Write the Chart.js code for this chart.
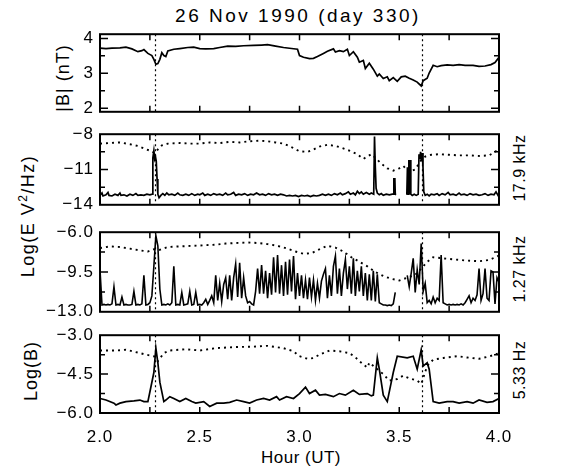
<!DOCTYPE html>
<html><head><meta charset="utf-8">
<script src="https://cdn.jsdelivr.net/npm/chart.js@4"></script>
<style>
body{margin:0;background:#fff;width:569px;height:471px;overflow:hidden;position:relative;font-family:"Liberation Sans",Arial,sans-serif;color:#000;}
canvas{position:absolute;left:0;}
.lbl{position:absolute;white-space:nowrap;font-size:18px;line-height:1;letter-spacing:1px;}
.c{transform:translate(-50%,-50%);}
.rot{transform:translate(-50%,-50%) rotate(-90deg);}
</style></head><body>
<div class="lbl c" style="left:298px;top:15px;font-size:19px;letter-spacing:2.5px">26 Nov 1990 (day 330)</div>
<div class="lbl rot" style="left:63px;top:78px">|B| (nT)</div>
<div class="lbl rot" style="left:28px;top:216px;letter-spacing:1.5px">Log(E V<sup style="font-size:12px;line-height:0">2</sup>/Hz)</div>
<div class="lbl rot" style="left:31px;top:371px">Log(B)</div>
<div class="lbl rot" style="left:520px;top:168px;font-size:16px;letter-spacing:0.5px">17.9 kHz</div>
<div class="lbl rot" style="left:520px;top:269px;font-size:16px;letter-spacing:0.5px">1.27 kHz</div>
<div class="lbl rot" style="left:520px;top:370px;font-size:16px;letter-spacing:0.5px">5.33 Hz</div>
<div class="lbl c" style="left:301px;top:457px;font-size:17px;letter-spacing:0.5px">Hour (UT)</div>
<script>
// ---------------- DATA ----------------
const eventHours = [2.277, 3.612];
const xTickHours = [2.25, 2.5, 2.75, 3.0, 3.25, 3.5, 3.75];
const xLabelHours = [2.0, 2.5, 3.0, 3.5, 4.0];

// Panel 1: |B| (nT)
const bTimes = [2.00,2.03,2.06,2.10,2.13,2.16,2.19,2.21,2.22,2.24,2.26,2.27,2.28,2.29,2.30,2.31,2.32,2.33,2.34,2.37,2.40,2.44,2.47,2.50,2.53,2.57,2.60,2.64,2.68,2.72,2.77,2.81,2.84,2.88,2.92,2.96,2.99,3.00,3.02,3.05,3.07,3.09,3.12,3.14,3.17,3.18,3.20,3.22,3.24,3.25,3.27,3.29,3.30,3.32,3.33,3.35,3.37,3.39,3.40,3.42,3.44,3.45,3.47,3.49,3.51,3.53,3.55,3.57,3.59,3.61,3.62,3.64,3.65,3.67,3.69,3.71,3.74,3.77,3.80,3.83,3.87,3.90,3.93,3.96,3.98,4.00];
const bValues = [3.72,3.71,3.72,3.73,3.75,3.70,3.62,3.65,3.68,3.57,3.51,3.40,3.26,3.28,3.40,3.59,3.51,3.48,3.64,3.69,3.71,3.74,3.75,3.71,3.70,3.71,3.74,3.78,3.77,3.79,3.80,3.81,3.82,3.78,3.74,3.71,3.69,3.51,3.46,3.42,3.43,3.48,3.57,3.63,3.70,3.61,3.65,3.62,3.69,3.51,3.62,3.46,3.32,3.37,3.14,3.29,3.12,2.92,2.98,2.85,2.90,2.79,2.88,2.77,2.90,2.92,2.86,2.81,2.75,2.64,2.79,2.86,3.01,3.23,3.19,3.22,3.24,3.23,3.25,3.23,3.23,3.20,3.21,3.25,3.31,3.46];

// Panel 2: 17.9 kHz
const e18Times = [2.000,2.010,2.015,2.030,2.040,2.045,2.060,2.075,2.090,2.100,2.105,2.120,2.135,2.150,2.165,2.180,2.190,2.205,2.220,2.235,2.250,2.262,2.265,2.270,2.274,2.278,2.282,2.286,2.290,2.296,2.305,2.315,2.325,2.335,2.345,2.360,2.375,2.390,2.400,2.415,2.430,2.445,2.460,2.475,2.490,2.500,2.515,2.525,2.540,2.555,2.570,2.585,2.600,2.615,2.630,2.640,2.655,2.670,2.680,2.695,2.710,2.725,2.740,2.755,2.770,2.785,2.800,2.815,2.830,2.845,2.860,2.875,2.890,2.905,2.920,2.935,2.950,2.965,2.980,2.995,3.010,3.025,3.040,3.055,3.070,3.085,3.100,3.115,3.130,3.145,3.160,3.175,3.190,3.205,3.215,3.230,3.245,3.255,3.270,3.280,3.290,3.300,3.310,3.320,3.335,3.350,3.360,3.372,3.376,3.380,3.384,3.390,3.400,3.410,3.420,3.435,3.450,3.465,3.471,3.473,3.478,3.480,3.484,3.510,3.538,3.541,3.544,3.548,3.551,3.555,3.558,3.565,3.575,3.585,3.595,3.599,3.603,3.607,3.611,3.615,3.619,3.623,3.630,3.640,3.650,3.660,3.675,3.690,3.700,3.715,3.730,3.745,3.755,3.770,3.785,3.800,3.810,3.825,3.840,3.855,3.870,3.885,3.900,3.915,3.930,3.945,3.960,3.975,3.985,3.995,4.000];
const e18Values = [-13.2,-13.0,-13.25,-13.15,-12.95,-13.2,-13.25,-13.1,-13.2,-13.0,-13.2,-13.15,-13.25,-13.1,-13.2,-13.05,-13.2,-13.15,-13.2,-13.1,-13.15,-13.1,-10.0,-9.4,-10.1,-9.9,-10.3,-11.8,-13.1,-13.4,-13.2,-13.05,-13.2,-13.0,-13.15,-13.1,-13.2,-13.0,-13.15,-13.2,-13.1,-13.2,-13.05,-13.2,-13.1,-13.15,-13.0,-13.2,-13.1,-13.2,-13.05,-13.15,-13.1,-13.2,-13.0,-13.15,-13.1,-12.95,-13.2,-13.1,-13.15,-13.05,-13.2,-13.1,-13.15,-13.0,-13.15,-13.1,-13.2,-13.05,-13.15,-13.1,-13.2,-13.1,-13.15,-13.25,-13.2,-13.25,-13.2,-13.3,-13.2,-13.25,-13.2,-13.3,-13.2,-13.25,-13.2,-13.1,-13.2,-13.1,-13.2,-13.05,-13.15,-13.0,-13.15,-13.05,-12.9,-13.1,-13.0,-13.15,-12.85,-13.05,-12.9,-13.1,-12.95,-13.1,-13.0,-13.1,-8.2,-10.8,-12.6,-13.0,-13.15,-13.05,-13.2,-13.1,-13.15,-13.1,-13.1,-11.8,-11.8,-13.1,-13.15,null,-13.15,-10.8,-13.1,-10.2,-13.1,-10.2,-13.1,-13.2,-13.1,-13.2,-13.1,-9.7,-10.1,-9.5,-10.3,-9.6,-10.8,-12.9,-13.2,-13.1,-13.25,-13.1,-13.15,-13.05,-13.2,-13.05,-13.15,-12.95,-13.15,-13.1,-13.2,-13.0,-13.15,-13.1,-13.2,-13.05,-13.15,-13.1,-13.2,-13.15,-13.05,-13.2,-13.1,-13.15,-12.9,-13.2,-13.0];
const e18RefTimes = [2.00,2.05,2.10,2.15,2.19,2.22,2.25,2.275,2.29,2.31,2.34,2.40,2.45,2.50,2.55,2.60,2.65,2.70,2.75,2.80,2.84,2.88,2.92,2.96,3.00,3.04,3.07,3.10,3.14,3.18,3.21,3.25,3.29,3.32,3.34,3.36,3.38,3.41,3.44,3.47,3.50,3.52,3.55,3.58,3.61,3.63,3.66,3.70,3.75,3.80,3.85,3.90,3.95,4.00];
const e18RefValues = [-8.8,-8.75,-8.7,-8.85,-9.0,-9.2,-9.4,-9.6,-9.3,-8.95,-8.8,-8.75,-8.8,-8.8,-8.7,-8.75,-8.65,-8.7,-8.6,-8.55,-8.6,-8.7,-8.8,-9.1,-9.45,-9.5,-9.3,-9.05,-8.9,-9.0,-9.15,-9.4,-9.7,-10.1,-9.9,-9.7,-10.0,-10.5,-10.9,-11.1,-10.9,-10.7,-11.2,-11.0,-10.2,-9.9,-9.75,-9.7,-9.75,-9.8,-9.8,-9.85,-9.8,-9.3];

// Panel 3: 1.27 kHz, one sample every 0.01 h from 2.00 to 4.00
const e127Start = 2.0, e127Step = 0.01;
const e127Values = [
-9.3,-12.4,-12.35,-12.4,-12.35,-12.4,-12.3,-10.8,-12.4,-12.35,
-12.4,-11.7,-12.4,-12.35,-12.4,-12.4,-12.35,-11.2,-12.4,-12.35,
-12.4,-12.3,-9.8,-12.4,-12.35,-12.2,-11.6,-9.0,-6.3,-7.2,
-11.0,-12.4,-12.35,-12.4,-12.3,-12.4,-12.2,-9.0,-12.4,-12.35,
-12.4,-11.3,-12.4,-12.35,-12.3,-11.2,-12.4,-12.35,-11.3,-12.4,
-12.35,-12.4,-12.2,-11.9,-12.35,-12.0,-11.6,-12.2,-9.8,-12.0,
-10.5,-12.1,-10.6,-10.0,-11.9,-9.8,-12.0,-10.0,-8.8,-11.7,
-8.7,-11.8,-10.0,-11.6,-12.2,-12.1,-12.3,-12.4,-11.2,-9.2,
-11.4,-8.9,-11.4,-9.4,-11.8,-9.6,-11.5,-8.2,-11.3,-8.0,
-11.4,-8.9,-11.6,-8.6,-11.5,-8.4,-11.2,-8.1,-11.9,-9.6,
-11.6,-9.8,-11.8,-10.2,-11.9,-10.0,-11.7,-10.2,-12.0,-10.5,
-11.8,-10.3,-9.7,-9.2,-11.8,-9.8,-11.6,-9.0,-8.1,-11.4,
-9.2,-11.6,-9.6,-8.4,-11.0,-9.0,-11.4,-8.3,-11.6,-9.4,
-11.2,-9.0,-11.6,-9.6,-12.0,-9.7,-12.0,-9.4,-12.1,-9.7,
-12.2,-12.3,-12.4,-12.4,-12.45,-12.4,-12.45,-12.3,-11.3,null,
null,null,null,null,-9.8,-10.8,-9.6,-8.3,-11.3,-9.3,
-10.6,-7.0,-11.2,-10.5,-12.2,-12.0,-12.3,-11.7,-12.2,-11.8,
-12.0,-8.0,-12.2,-12.3,-12.4,-12.35,-12.4,-12.35,-12.4,-12.35,
-12.4,-12.3,-12.4,-12.2,-11.9,-11.6,-12.2,-11.8,-12.0,-11.5,
-9.2,-12.0,-11.4,-9.2,-11.8,-12.0,-9.4,-9.5,-12.3,-10.0,
-10.4];
const e127RefTimes = [2.00,2.05,2.10,2.15,2.20,2.24,2.27,2.30,2.34,2.40,2.46,2.52,2.58,2.63,2.68,2.74,2.79,2.84,2.89,2.94,2.98,3.02,3.06,3.10,3.14,3.18,3.22,3.26,3.30,3.34,3.38,3.42,3.46,3.50,3.54,3.58,3.61,3.64,3.67,3.72,3.78,3.84,3.90,3.95,4.00];
const e127RefValues = [-7.4,-7.25,-7.3,-7.45,-7.6,-7.7,-7.5,-7.55,-7.3,-7.25,-7.2,-7.15,-7.1,-7.0,-6.95,-6.9,-6.95,-7.05,-7.2,-7.45,-7.7,-7.9,-7.85,-7.5,-7.2,-7.35,-7.7,-8.2,-8.6,-9.0,-9.5,-9.85,-10.1,-10.25,-10.0,-9.75,-9.2,-8.6,-8.2,-8.3,-8.4,-8.5,-8.55,-8.45,-8.05];

// Panel 4: 5.33 Hz
const b5Times = [2.00,2.03,2.07,2.08,2.10,2.13,2.17,2.20,2.22,2.24,2.25,2.27,2.28,2.29,2.30,2.32,2.33,2.35,2.37,2.40,2.43,2.46,2.48,2.52,2.55,2.585,2.62,2.65,2.685,2.72,2.75,2.785,2.82,2.85,2.885,2.90,2.935,2.97,3.00,3.03,3.05,3.08,3.10,3.13,3.17,3.20,3.23,3.27,3.30,3.34,3.36,3.37,3.39,3.40,3.42,3.44,3.47,3.49,3.54,3.57,3.59,3.61,3.62,3.64,3.65,3.67,3.70,3.74,3.77,3.80,3.84,3.87,3.90,3.94,3.97,4.00];
const b5Values = [-5.44,-5.5,-5.62,-5.69,-5.62,-5.56,-5.53,-5.5,-5.56,-5.56,-5.19,-4.44,-3.5,-4.06,-4.81,-5.56,-5.5,-5.37,-5.44,-5.56,-5.44,-5.56,-5.62,-5.56,-5.75,-5.62,-5.62,-5.59,-5.5,-5.56,-5.62,-5.5,-5.44,-5.5,-5.37,-5.5,-5.37,-5.44,-5.25,-5.0,-5.25,-5.12,-5.31,-5.28,-5.37,-5.25,-5.31,-5.12,-5.28,-5.25,-5.34,-5.31,-3.87,-4.31,-5.31,-5.56,-4.44,-3.81,-3.87,-3.81,-4.31,-3.56,-4.19,-4.06,-4.31,-5.56,-5.62,-5.56,-5.56,-5.62,-5.56,-5.62,-5.5,-5.59,-5.56,-5.44];
const b5RefTimes = [2.00,2.08,2.13,2.20,2.23,2.27,2.29,2.32,2.35,2.43,2.50,2.58,2.67,2.77,2.84,2.92,2.97,3.00,3.04,3.07,3.10,3.15,3.20,3.25,3.28,3.30,3.34,3.35,3.39,3.42,3.45,3.49,3.52,3.55,3.59,3.61,3.64,3.67,3.72,3.79,3.84,3.90,3.955,4.00];
const b5RefValues = [-3.59,-3.59,-3.56,-3.69,-3.75,-3.81,-4.0,-3.69,-3.59,-3.54,-3.59,-3.5,-3.46,-3.44,-3.41,-3.5,-3.62,-3.81,-3.91,-3.88,-3.75,-3.59,-3.62,-3.69,-3.85,-4.0,-4.25,-4.06,-4.31,-4.5,-4.75,-4.69,-4.56,-4.66,-4.75,-4.88,-4.19,-3.94,-3.88,-3.81,-3.86,-3.91,-3.81,-3.69];

// y axis ranges, labelled ticks and minor ticks per panel
const p1YRange = [1.9, 4.12], p1YLabels = [2, 3, 4], p1YMinor = [2.5, 3.5];
const p2YRange = [-14, -8], p2YLabels = [-14, -11, -8], p2YMinor = [-12.5, -9.5];
const p3YRange = [-13, -6], p3YLabels = [-13, -9.5, -6], p3YMinor = [-11.25, -7.75];
const p4YRange = [-6, -3], p4YLabels = [-6, -4.5, -3], p4YMinor = [-5.25, -3.75];

// ---------------- DRAWING ----------------
const FONT = '"Liberation Sans", Arial, sans-serif';
const pts = (xs, ys) => xs.map((x, i) => ({x: x, y: ys[i]}));
const gridPts = (start, step, ys) => ys.map((y, i) => ({x: +(start + i * step).toFixed(4), y: y}));
const fmtMinus = s => s.replace('-', '\u2212');

const framePlugin = {
  id: 'frame',
  beforeDraw(chart) { try { chart.ctx.letterSpacing = '1px'; } catch (e) {} },
  beforeDatasetsDraw(chart) {
    const {ctx, chartArea: a, scales: {x}} = chart;
    ctx.save();
    ctx.strokeStyle = '#000'; ctx.lineWidth = 1.2; ctx.setLineDash([2, 3]);
    eventHours.forEach(h => {
      const px = Math.round(x.getPixelForValue(h)) + 0.5;
      ctx.beginPath(); ctx.moveTo(px, a.top); ctx.lineTo(px, a.bottom); ctx.stroke();
    });
    ctx.restore();
  },
  afterDatasetsDraw(chart, args, opts) {
    const {ctx, chartArea: a, scales: {x, y}} = chart;
    ctx.save();
    ctx.strokeStyle = '#000'; ctx.lineWidth = 2; ctx.setLineDash([]);
    ctx.strokeRect(a.left, a.top, a.right - a.left, a.bottom - a.top);
    ctx.lineWidth = 1.5;
    ctx.beginPath();
    xTickHours.forEach(h => {
      const px = x.getPixelForValue(h);
      ctx.moveTo(px, a.bottom); ctx.lineTo(px, a.bottom - 6);
      ctx.moveTo(px, a.top); ctx.lineTo(px, a.top + 6);
    });
    opts.major.forEach(v => {
      const py = y.getPixelForValue(v);
      ctx.moveTo(a.left, py); ctx.lineTo(a.left + 8, py);
      ctx.moveTo(a.right, py); ctx.lineTo(a.right - 8, py);
    });
    opts.minor.forEach(v => {
      const py = y.getPixelForValue(v);
      ctx.moveTo(a.left, py); ctx.lineTo(a.left + 5, py);
      ctx.moveTo(a.right, py); ctx.lineTo(a.right - 5, py);
    });
    ctx.stroke();
    ctx.restore();
  }
};

function makePanel(top, bottom, datasets, yRange, yLabels, yMinor, yFmt, isBottom) {
  const cv = document.createElement('canvas');
  const pad = 14;
  const xh = isBottom ? 42 : 0;
  const H = (bottom - top) + pad * 2 + xh;
  cv.width = 569; cv.height = H;
  cv.style.width = '569px'; cv.style.height = H + 'px';
  cv.style.top = (top - pad) + 'px';
  document.body.appendChild(cv);
  const chart = new Chart(cv, {
    type: 'line',
    data: {datasets: datasets},
    options: {
      responsive: false, animation: false, devicePixelRatio: 1,
      layout: {padding: {left: 0, right: 70, top: pad, bottom: pad}},
      plugins: {legend: {display: false}, tooltip: {enabled: false},
                frame: {major: yLabels.filter(v => v > yRange[0] && v < yRange[1]), minor: yMinor}},
      elements: {point: {radius: 0}, line: {tension: 0}},
      scales: {
        x: {
          type: 'linear', min: 2, max: 4, display: isBottom,
          grid: {display: false, drawTicks: false}, border: {display: false},
          afterBuildTicks: ax => { ax.ticks = xLabelHours.map(v => ({value: v})); },
          afterFit: ax => { ax.height = xh; },
          ticks: {padding: 14, color: '#000', font: {family: FONT, size: 17}, maxRotation: 0, autoSkip: false,
                  callback: v => Number(v).toFixed(1)}
        },
        y: {
          type: 'linear', min: yRange[0], max: yRange[1],
          grid: {display: false, drawTicks: false}, border: {display: false},
          afterBuildTicks: ax => { ax.ticks = yLabels.map(v => ({value: v})); },
          afterFit: ax => { ax.width = 100; },
          ticks: {padding: 6, color: '#000', font: {family: FONT, size: 17}, autoSkip: false, callback: yFmt}
        }
      }
    },
    plugins: [framePlugin]
  });
  const shift = chart.chartArea.top - pad;
  if (shift) cv.style.top = (top - pad - shift) + 'px';
  return chart;
}

const solid = (data, w) => ({data: data, borderColor: '#000', borderWidth: w || 1.7, spanGaps: false, pointRadius: 0, order: 1});
const dotted = (data) => ({data: data, borderColor: '#000', borderWidth: 1.9, borderDash: [2, 4], pointRadius: 0, order: 2});

makePanel(34, 116, [solid(pts(bTimes, bValues))], p1YRange, p1YLabels, p1YMinor, v => String(v), false);
makePanel(134, 209, [solid(pts(e18Times, e18Values)), dotted(pts(e18RefTimes, e18RefValues))], p2YRange, p2YLabels, p2YMinor, v => fmtMinus(String(v)), false);
makePanel(232, 316, [solid(gridPts(e127Start, e127Step, e127Values), 1.6), dotted(pts(e127RefTimes, e127RefValues))], p3YRange, p3YLabels, p3YMinor, v => fmtMinus(Number(v).toFixed(1)), false);
makePanel(335, 415, [solid(pts(b5Times, b5Values)), dotted(pts(b5RefTimes, b5RefValues))], p4YRange, p4YLabels, p4YMinor, v => fmtMinus(Number(v).toFixed(1)), true);
</script>
</body></html>
